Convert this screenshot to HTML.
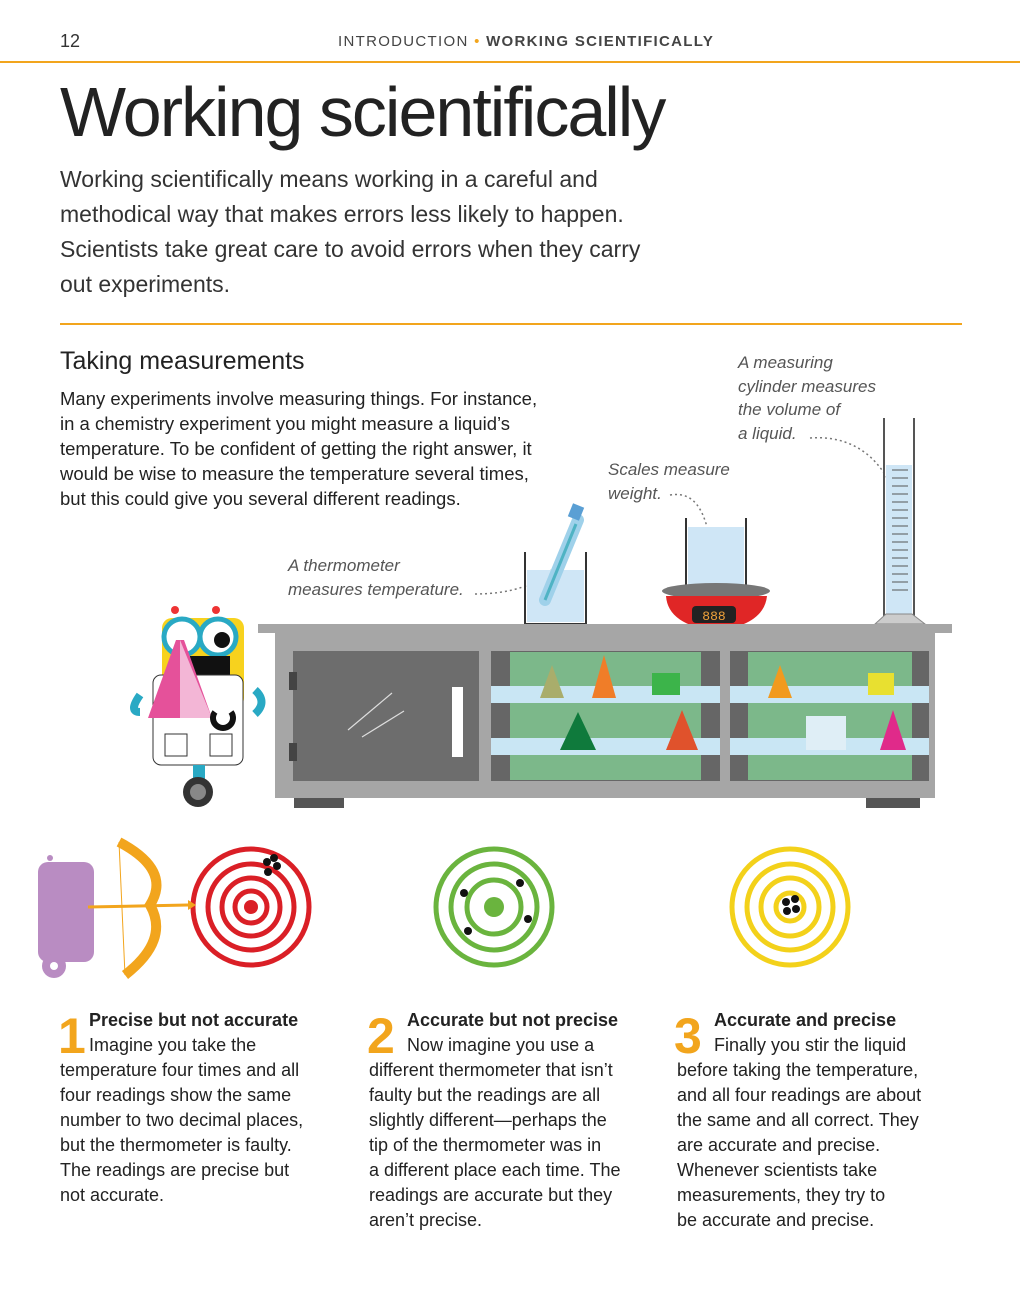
<!DOCTYPE html>
<html><head><meta charset="utf-8"><style>
body{margin:0;background:#fff;width:1020px;height:1303px;position:relative;overflow:hidden;font-family:"Liberation Sans",sans-serif;color:#222}
.a{position:absolute;white-space:nowrap}
.it{font-family:"Liberation Sans",sans-serif;font-style:italic;color:#555;font-size:17px;line-height:23.5px}
.col{position:absolute;font-size:18px;line-height:25px;color:#222;white-space:nowrap}
.num{position:absolute;font-size:50px;font-weight:bold;color:#f2a51d;line-height:1}
</style></head><body>
<div class="a" style="left:60px;top:31px;font-size:18px;color:#333">12</div>
<div class="a" style="left:338px;top:33px;font-size:15px;letter-spacing:1.3px;color:#444">INTRODUCTION <span style="color:#f2a51d">•</span> <b>WORKING SCIENTIFICALLY</b></div>
<div style="position:absolute;left:0;top:61px;width:1020px;height:2px;background:#f2a51d"></div>
<div class="a" style="left:60px;top:72px;font-size:70px;color:#222;letter-spacing:-2px">Working scientifically</div>
<div class="a" style="left:60px;top:162px;font-size:23px;line-height:35px;color:#333">Working scientifically means working in a careful and<br>methodical way that makes errors less likely to happen.<br>Scientists take great care to avoid errors when they carry<br>out experiments.</div>
<div style="position:absolute;left:60px;top:323px;width:902px;height:2px;background:#f2a51d"></div>
<div class="a" style="left:60px;top:347px;font-size:25px;color:#222">Taking measurements</div>
<div class="a" style="left:60px;top:386px;font-size:18.5px;line-height:25px">Many experiments involve measuring things. For instance,<br>in a chemistry experiment you might measure a liquid’s<br>temperature. To be confident of getting the right answer, it<br>would be wise to measure the temperature several times,<br>but this could give you several different readings.</div>
<div class="a it" style="left:738px;top:351px">A measuring<br>cylinder measures<br>the volume of<br>a liquid.</div>
<div class="a it" style="left:608px;top:458px">Scales measure<br>weight.</div>
<div class="a it" style="left:288px;top:554px">A thermometer<br>measures temperature.</div>

<svg style="position:absolute;left:0;top:0" width="1020" height="1303">
<g fill="none" stroke="#777" stroke-width="1.5" stroke-dasharray="2 3">
<path d="M475 594 C510 594 540 585 556 565"/>
<path d="M670 495 C700 490 712 520 714 588"/>
<path d="M810 438 C850 435 880 455 895 495"/>
</g>
<rect x="527" y="570" width="57" height="52" fill="#cfe6f6"/>
<path d="M525 552 V624 H586 V552" fill="none" stroke="#333" stroke-width="2"/>
<path d="M545 600 L578 520" stroke="#9fd1ea" stroke-width="12" stroke-linecap="round"/>
<path d="M545 600 L576 524" stroke="#4fb3c4" stroke-width="3"/>
<rect x="570" y="505" width="12" height="14" fill="#5a9fd4" transform="rotate(22 576 512)"/>
<rect x="688" y="527" width="56" height="58" fill="#cfe6f6"/>
<path d="M686 518 V587 H746 V518" fill="none" stroke="#333" stroke-width="2"/>
<ellipse cx="716" cy="591" rx="54" ry="8" fill="#777"/>
<path d="M666 596 Q668 625 716 631 Q764 625 767 596 Z" fill="#e02626"/>
<rect x="692" y="606" width="44" height="17" rx="4" fill="#222"/>
<text x="714" y="620" font-family="Liberation Mono" font-size="13" fill="#f0a23a" text-anchor="middle">888</text>
<rect x="886" y="465" width="26" height="150" fill="#cfe6f6"/>
<path d="M884 418 V615 H914 V418" fill="none" stroke="#555" stroke-width="2"/>
<g stroke="#555" stroke-width="1"><path d="M892 470 H908 M892 478 H908 M892 486 H908 M892 494 H908 M892 502 H908 M892 510 H908 M892 518 H908 M892 526 H908 M892 534 H908 M892 542 H908 M892 550 H908 M892 558 H908 M892 566 H908 M892 574 H908 M892 582 H908 M892 590 H908"/></g>
<path d="M875 624 L886 614 H912 L925 624 Z" fill="#ccc" stroke="#888"/>
<rect x="258" y="624" width="694" height="9" fill="#a6a6a6"/>
<rect x="275" y="633" width="660" height="165" fill="#a6a6a6"/>
<rect x="293" y="651" width="186" height="130" fill="#6d6d6d"/>
<rect x="452" y="687" width="11" height="70" fill="#fff"/>
<path d="M348 730 L392 693 M362 737 L404 711" stroke="#ddd" stroke-width="1.2"/>
<rect x="289" y="672" width="8" height="18" fill="#444"/><rect x="289" y="743" width="8" height="18" fill="#444"/>
<rect x="491" y="651" width="229" height="130" fill="#666"/>
<rect x="510" y="652" width="191" height="128" fill="#7cb88a"/>
<rect x="730" y="651" width="199" height="130" fill="#666"/>
<rect x="748" y="652" width="164" height="128" fill="#7cb88a"/>
<rect x="491" y="686" width="229" height="17" fill="#c9e6f4"/><rect x="491" y="738" width="229" height="17" fill="#c9e6f4"/>
<rect x="730" y="686" width="199" height="17" fill="#c9e6f4"/><rect x="730" y="738" width="199" height="17" fill="#c9e6f4"/>
<path d="M540 698 L552 665 L564 698 Z" fill="#a9ad6b"/><path d="M592 698 L604 655 L616 698 Z" fill="#f07d28"/>
<rect x="652" y="673" width="28" height="22" fill="#3cb44a"/>
<path d="M560 750 L578 712 L596 750 Z" fill="#0f7a3c"/><path d="M666 750 L682 710 L698 750 Z" fill="#e0522c"/>
<path d="M768 698 L780 665 L792 698 Z" fill="#f29a1e"/><rect x="868" y="673" width="26" height="22" fill="#e8e030"/>
<path d="M880 750 L893 710 L906 750 Z" fill="#e02a8a"/>
<rect x="806" y="716" width="40" height="34" fill="#dfeef6"/>
<rect x="294" y="798" width="50" height="10" fill="#555"/><rect x="866" y="798" width="54" height="10" fill="#555"/>
<rect x="162" y="618" width="82" height="90" rx="10" fill="#f7d21e"/>
<circle cx="182" cy="637" r="18" fill="#fff" stroke="#29a9c4" stroke-width="5"/>
<circle cx="218" cy="637" r="18" fill="#fff" stroke="#29a9c4" stroke-width="5"/>
<circle cx="222" cy="640" r="8" fill="#111"/>
<circle cx="175" cy="610" r="4" fill="#e33"/><circle cx="216" cy="610" r="4" fill="#e33"/>
<rect x="190" y="656" width="40" height="20" fill="#111"/>
<path d="M140 695 Q128 712 140 712 M255 690 Q268 702 255 714" stroke="#29a9c4" stroke-width="8" fill="none"/>
<rect x="153" y="675" width="90" height="90" rx="8" fill="#fff" stroke="#333"/>
<path d="M148 718 L176 640 L184 640 L212 718 Z" fill="#e5519a"/>
<path d="M180 640 L212 718 L180 718 Z" fill="#f3b6d6"/>
<rect x="165" y="734" width="22" height="22" fill="#fff" stroke="#333"/><rect x="210" y="734" width="22" height="22" fill="#fff" stroke="#333"/>
<rect x="193" y="765" width="12" height="15" fill="#29a9c4"/>
<circle cx="198" cy="792" r="15" fill="#333"/><circle cx="198" cy="792" r="8" fill="#888"/>
<path d="M215 712 a10 10 0 1 0 16 0" stroke="#111" stroke-width="6" fill="none"/>
<g fill="none" stroke="#da1f26" stroke-width="5"><circle cx="251" cy="907" r="58"/><circle cx="251" cy="907" r="43"/><circle cx="251" cy="907" r="29"/><circle cx="251" cy="907" r="16"/></g>
<circle cx="251" cy="907" r="7" fill="#da1f26"/>
<g fill="#111"><circle cx="267" cy="862" r="4"/><circle cx="274" cy="858" r="4"/><circle cx="277" cy="866" r="4"/><circle cx="268" cy="872" r="4"/></g>
<g fill="none" stroke="#6ab43e" stroke-width="5"><circle cx="494" cy="907" r="58"/><circle cx="494" cy="907" r="43"/><circle cx="494" cy="907" r="27"/></g>
<circle cx="494" cy="907" r="10" fill="#6ab43e"/>
<g fill="#111"><circle cx="464" cy="893" r="4"/><circle cx="520" cy="883" r="4"/><circle cx="528" cy="919" r="4"/><circle cx="468" cy="931" r="4"/></g>
<g fill="none" stroke="#f3d11a" stroke-width="5"><circle cx="790" cy="907" r="58"/><circle cx="790" cy="907" r="43"/><circle cx="790" cy="907" r="29"/><circle cx="790" cy="907" r="14"/></g>
<g fill="#111"><circle cx="786" cy="902" r="4"/><circle cx="795" cy="899" r="4"/><circle cx="787" cy="911" r="4"/><circle cx="796" cy="909" r="4"/></g>
<rect x="38" y="862" width="56" height="100" rx="10" fill="#b98cc2"/>
<circle cx="54" cy="966" r="12" fill="#b98cc2"/><circle cx="54" cy="966" r="4" fill="#fff"/>
<circle cx="50" cy="858" r="3" fill="#b98cc2"/>
<path d="M119 842 Q172 870 150 905 Q170 940 125 975" stroke="#f2a51d" stroke-width="10" fill="none"/>
<path d="M119 842 L125 975" stroke="#f2a51d" stroke-width="1"/>
<path d="M88 907 L188 905" stroke="#f2a51d" stroke-width="3"/><path d="M188 900 L196 905 L188 910 Z" fill="#f2a51d"/>
</svg>

<div class="num" style="left:58px;top:1011px">1</div>
<div class="num" style="left:367px;top:1011px">2</div>
<div class="num" style="left:674px;top:1011px">3</div>
<div class="col" style="left:60px;top:1008px"><span style="padding-left:29px"><b>Precise but not accurate</b></span><br><span style="padding-left:29px">Imagine you take the</span><br>temperature four times and all<br>four readings show the same<br>number to two decimal places,<br>but the thermometer is faulty.<br>The readings are precise but<br>not accurate.</div>
<div class="col" style="left:369px;top:1008px"><span style="padding-left:38px"><b>Accurate but not precise</b></span><br><span style="padding-left:38px">Now imagine you use a</span><br>different thermometer that isn’t<br>faulty but the readings are all<br>slightly different—perhaps the<br>tip of the thermometer was in<br>a different place each time. The<br>readings are accurate but they<br>aren’t precise.</div>
<div class="col" style="left:677px;top:1008px"><span style="padding-left:37px"><b>Accurate and precise</b></span><br><span style="padding-left:37px">Finally you stir the liquid</span><br>before taking the temperature,<br>and all four readings are about<br>the same and all correct. They<br>are accurate and precise.<br>Whenever scientists take<br>measurements, they try to<br>be accurate and precise.</div>
</body></html>
